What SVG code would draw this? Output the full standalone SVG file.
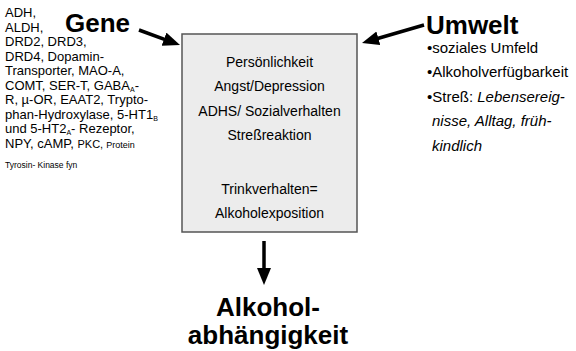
<svg xmlns="http://www.w3.org/2000/svg" width="576" height="351" viewBox="0 0 576 351">
<defs>
<style>
text{font-family:"Liberation Sans",Arial,sans-serif;fill:#000}
.t{font-size:13px}
.b{font-size:14px}
.r{font-size:15px}
.h{font-size:26px;font-weight:bold}
.i{font-style:italic}
.s{font-size:7px}
.arr{stroke:#000;stroke-width:3.5;fill:none;marker-end:url(#ah)}
</style>
<marker id="ah" markerUnits="userSpaceOnUse" markerWidth="18" markerHeight="15" refX="7" refY="7" orient="auto" viewBox="0 0 18 15">
<path d="M0,0 L17,7 L0,14 z" fill="#000"/>
</marker>
</defs>
<rect width="576" height="351" fill="#fff"/>
<g id="connectors">
<line class="arr" x1="139" y1="30" x2="170.6" y2="41.6"/>
<line class="arr" x1="424" y1="25" x2="371.6" y2="40.2"/>
<line class="arr" x1="264" y1="241" x2="264" y2="275"/>
</g>
<g id="box">
<rect x="182" y="34" width="175" height="198" fill="#ececec" stroke="#555" stroke-width="1.5"/>
<text class="b" x="269.5" y="67" text-anchor="middle">Persönlichkeit</text>
<text class="b" x="269.5" y="91" text-anchor="middle">Angst/Depression</text>
<text class="b" x="269.5" y="116" text-anchor="middle">ADHS/ Sozialverhalten</text>
<text class="b" x="269.5" y="140" text-anchor="middle">Streßreaktion</text>
<text class="b" x="269.5" y="194" text-anchor="middle">Trinkverhalten=</text>
<text class="b" x="269.5" y="218" text-anchor="middle">Alkoholexposition</text>
</g>
<g id="gene">
<text class="h" x="65" y="32">Gene</text>
<text class="t" x="5" y="17">ADH,</text>
<text class="t" x="5" y="32">ALDH,</text>
<text class="t" x="5" y="46">DRD2, DRD3,</text>
<text class="t" x="5" y="61">DRD4, Dopamin-</text>
<text class="t" x="5" y="75">Transporter, MAO-A,</text>
<text class="t" x="5" y="90">COMT, SER-T, GABA<tspan class="s" dy="2">A</tspan><tspan dy="-2">-</tspan></text>
<text class="t" x="5" y="104">R, µ-OR, EAAT2, Trypto-</text>
<text class="t" x="5" y="119">phan-Hydroxylase, 5-HT1<tspan class="s" dy="2">B</tspan></text>
<text class="t" x="5" y="133">und 5-HT2<tspan class="s" dy="2">A</tspan><tspan dy="-2">- Rezeptor,</tspan></text>
<text class="t" x="5" y="148">NPY, cAMP, <tspan font-size="11">PKC, </tspan><tspan font-size="9">Protein</tspan></text>
<text x="5" y="168" font-size="8.5">Tyrosin- Kinase fyn</text>
</g>
<g id="umwelt">
<text class="h" x="426" y="34" font-size="27">Umwelt</text>
<text class="r" x="427" y="53" font-size="13.5">•soziales Umfeld</text>
<text class="r" x="427" y="77">•Alkoholverfügbarkeit</text>
<text class="r" x="427" y="102">•Streß: <tspan class="i">Lebensereig-</tspan></text>
<text class="r i" x="432" y="126">nisse, Alltag, früh-</text>
<text class="r i" x="432" y="151">kindlich</text>
</g>
<g id="result">
<text class="h" x="268" y="316" text-anchor="middle">Alkohol-</text>
<text class="h" x="268" y="344" text-anchor="middle">abhängigkeit</text>
</g>
</svg>
